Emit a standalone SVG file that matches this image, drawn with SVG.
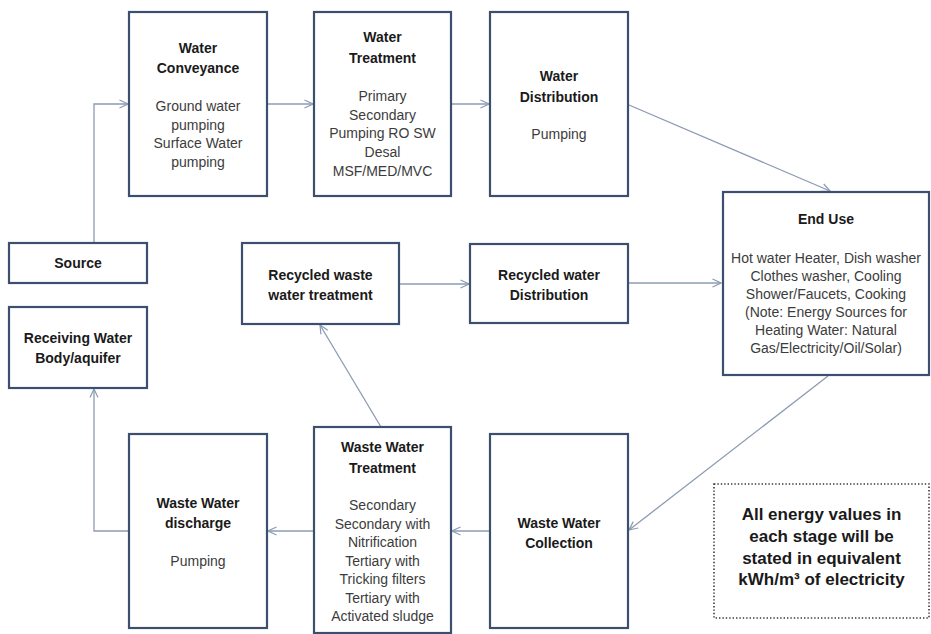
<svg xmlns="http://www.w3.org/2000/svg" width="931" height="634" viewBox="0 0 931 634">
  <defs>
    <marker id="chev" viewBox="0 0 10 10" refX="9.5" refY="5" markerWidth="10" markerHeight="10" markerUnits="userSpaceOnUse" orient="auto">
      <path d="M1,1 L9.5,5 L1,9" fill="none" stroke="#8c9bb3" stroke-width="1.2"/>
    </marker>
    <style>
      .box { fill: #ffffff; stroke: #3d4f6e; stroke-width: 2.2; }
      .note { fill: #ffffff; stroke: #3a3a3a; stroke-width: 1.6; stroke-dasharray: 1.4 2; }
      .conn { fill: none; stroke: #8c9bb3; stroke-width: 1.3; }
      .arr { marker-end: url(#chev); }
      text { font-family: "Liberation Sans", Arial, sans-serif; text-anchor: middle; }
      .t { font-weight: bold; font-size: 14px; fill: #1a1a1a; }
      .b { font-size: 14px; fill: #3c3c3c; }
      .n { font-weight: bold; font-size: 17px; fill: #1a1a1a; }
    </style>
  </defs>
  <rect width="931" height="634" fill="#ffffff"/>

  <!-- connectors -->
  <g id="connectors">
    <polyline class="conn arr" points="94,243 94,104 128,104"/>
    <line class="conn arr" x1="267" y1="104" x2="313" y2="104"/>
    <line class="conn arr" x1="451" y1="104" x2="489" y2="104"/>
    <line class="conn arr" x1="629" y1="105" x2="830" y2="191"/>
    <line class="conn arr" x1="828" y1="376" x2="629" y2="530"/>
    <line class="conn arr" x1="490" y1="531" x2="452" y2="531"/>
    <line class="conn arr" x1="314" y1="531" x2="268" y2="531"/>
    <polyline class="conn arr" points="129,531 94,531 94,389"/>
    <line class="conn arr" x1="381" y1="427" x2="320" y2="325"/>
    <line class="conn arr" x1="399" y1="284" x2="469" y2="284"/>
    <line class="conn arr" x1="628" y1="283" x2="721" y2="283"/>
  </g>

  <g id="source">
    <rect class="box" x="9" y="243" width="138" height="40"/>
    <text class="t" x="78" y="268">Source</text>
  </g>

  <g id="receiving-water">
    <rect class="box" x="9" y="307" width="138" height="81"/>
    <text class="t" x="78" y="343">Receiving Water</text>
    <text class="t" x="78" y="363">Body/aquifer</text>
  </g>

  <g id="water-conveyance">
    <rect class="box" x="129" y="12" width="138" height="184"/>
    <text class="t" x="198" y="53">Water</text>
    <text class="t" x="198" y="73">Conveyance</text>
    <text class="b" x="198" y="111">Ground water</text>
    <text class="b" x="198" y="129.5">pumping</text>
    <text class="b" x="198" y="148">Surface Water</text>
    <text class="b" x="198" y="166.5">pumping</text>
  </g>

  <g id="water-treatment">
    <rect class="box" x="314" y="12" width="137" height="184"/>
    <text class="t" x="382.5" y="42">Water</text>
    <text class="t" x="382.5" y="63">Treatment</text>
    <text class="b" x="382.5" y="101">Primary</text>
    <text class="b" x="382.5" y="119.5">Secondary</text>
    <text class="b" x="382.5" y="138">Pumping  RO SW</text>
    <text class="b" x="382.5" y="156.5">Desal</text>
    <text class="b" x="382.5" y="175.5">MSF/MED/MVC</text>
  </g>

  <g id="water-distribution">
    <rect class="box" x="490" y="12" width="138" height="184"/>
    <text class="t" x="559" y="81">Water</text>
    <text class="t" x="559" y="102">Distribution</text>
    <text class="b" x="559" y="139">Pumping</text>
  </g>

  <g id="end-use">
    <rect class="box" x="723" y="192" width="206" height="183"/>
    <text class="t" x="826" y="224">End Use</text>
    <text class="b" x="826" y="263">Hot water Heater, Dish washer</text>
    <text class="b" x="826" y="281">Clothes washer, Cooling</text>
    <text class="b" x="826" y="299">Shower/Faucets, Cooking</text>
    <text class="b" x="826" y="317">(Note: Energy  Sources for</text>
    <text class="b" x="826" y="335">Heating Water: Natural</text>
    <text class="b" x="826" y="353">Gas/Electricity/Oil/Solar)</text>
  </g>

  <g id="recycled-treatment">
    <rect class="box" x="242" y="243" width="157" height="81"/>
    <text class="t" x="320.5" y="280">Recycled waste</text>
    <text class="t" x="320.5" y="300">water treatment</text>
  </g>

  <g id="recycled-distribution">
    <rect class="box" x="470" y="244" width="158" height="79"/>
    <text class="t" x="549" y="280">Recycled water</text>
    <text class="t" x="549" y="300">Distribution</text>
  </g>

  <g id="waste-water-discharge">
    <rect class="box" x="129" y="434" width="138" height="194"/>
    <text class="t" x="198" y="508">Waste Water</text>
    <text class="t" x="198" y="528">discharge</text>
    <text class="b" x="198" y="566">Pumping</text>
  </g>

  <g id="waste-water-treatment">
    <rect class="box" x="314" y="427" width="137" height="206"/>
    <text class="t" x="382.5" y="452">Waste Water</text>
    <text class="t" x="382.5" y="473">Treatment</text>
    <text class="b" x="382.5" y="510">Secondary</text>
    <text class="b" x="382.5" y="528.5">Secondary with</text>
    <text class="b" x="382.5" y="547">Nitrification</text>
    <text class="b" x="382.5" y="565.5">Tertiary with</text>
    <text class="b" x="382.5" y="584">Tricking filters</text>
    <text class="b" x="382.5" y="602.5">Tertiary with</text>
    <text class="b" x="382.5" y="621">Activated sludge</text>
  </g>

  <g id="waste-water-collection">
    <rect class="box" x="490" y="434" width="138" height="194"/>
    <text class="t" x="559" y="528">Waste Water</text>
    <text class="t" x="559" y="548">Collection</text>
  </g>

  <g id="energy-note">
    <rect class="note" x="714" y="484" width="215" height="134"/>
    <text class="n" x="821.5" y="520">All energy values in</text>
    <text class="n" x="821.5" y="542">each stage will be</text>
    <text class="n" x="821.5" y="563.5">stated in equivalent</text>
    <text class="n" x="821.5" y="585">kWh/m³ of electricity</text>
  </g>
</svg>
